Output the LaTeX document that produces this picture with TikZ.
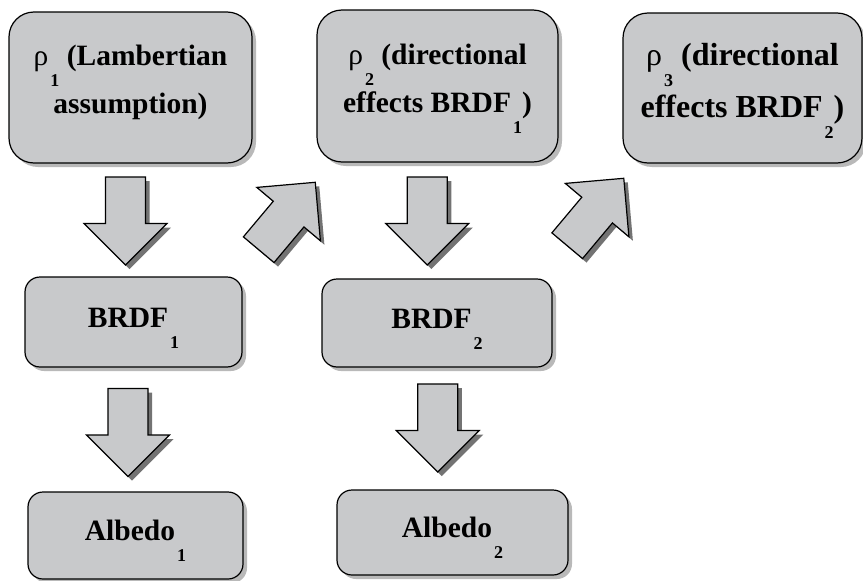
\documentclass[tikz,border=0pt]{standalone}
\usepackage{fontspec}
\setmainfont{Liberation Serif}
\usepackage{tikz}
\usetikzlibrary{calc}
\usetikzlibrary{shadows}
\usetikzlibrary{positioning}

\definecolor{boxgray}{RGB}{200,201,203}
\newcommand{\lowidx}[1]{\kern2pt\raisebox{-21pt}[0pt][0pt]{\fontsize{18}{18}\selectfont #1}}
\newcommand{\rhosym}{{\mdseries ρ}}

\begin{document}
\begin{tikzpicture}[x=1pt, y=-1pt,
  box/.style={draw, line width=1.2pt, fill=boxgray, rounded corners=15pt, inner sep=0pt,
    drop shadow={shadow xshift=4pt, shadow yshift=-4pt, fill=black!55},
    font=\fontsize{29.5}{48}\selectfont\bfseries, text height=19pt, text depth=9pt},
  bigbox/.style={box, rounded corners=25pt, align=center, text height=, text depth=,
    execute at end node={\rule[-16pt]{0pt}{16pt}}},
  arrowbody/.style={draw, line width=1.2pt, fill=boxgray, line join=miter},
  blockarrow/.pic={
    \fill[black!55, xshift=4pt, yshift=-4pt, rotate=#1]
      (-44pt,-20pt) -- (2.5pt,-20pt) -- (2.5pt,-41.5pt) -- (44pt,0pt) -- (2.5pt,41.5pt) -- (2.5pt,20pt) -- (-44pt,20pt) -- cycle;
    \path[arrowbody, rotate=#1]
      (-44pt,-20pt) -- (2.5pt,-20pt) -- (2.5pt,-41.5pt) -- (44pt,0pt) -- (2.5pt,41.5pt) -- (2.5pt,20pt) -- (-44pt,20pt) -- cycle;
  }
]
\useasboundingbox (0,0) rectangle (863,581);

% top row
\node[bigbox, minimum width=243pt, minimum height=151pt] (rho1) at (130.5,87.5) {\rhosym\lowidx{1} (Lambertian\\assumption)};
\node[bigbox, minimum width=241pt, minimum height=152pt] (rho2) at (437.5,86) {\rhosym\lowidx{2} (directional\\effects BRDF\lowidx{1})};
\node[bigbox, minimum width=239pt, minimum height=150pt, font=\fontsize{32}{52}\selectfont\bfseries] (rho3) at (742.5,88) {\rhosym\lowidx{3} (directional\\effects BRDF\lowidx{2})};

% middle row
\node[box, minimum width=217pt, minimum height=90pt] (brdf1) at (133.5,322) {BRDF\lowidx{1}};
\node[box, minimum width=230pt, minimum height=88pt] (brdf2) at (437,323) {BRDF\lowidx{2}};

% bottom row
\node[box, minimum width=215pt, minimum height=87pt] (albedo1) at (135.5,535.5) {Albedo\lowidx{1}};
\node[box, minimum width=231pt, minimum height=85pt] (albedo2) at (452.5,532.5) {Albedo\lowidx{2}};

% block arrows between the boxes
\pic at ($(rho1.south)!.5!(brdf1.north)+(-6.5,1)$) {blockarrow=270};
\pic at ($(rho2.south)!.5!(brdf2.north)+(-10,0.5)$) {blockarrow=270};
\pic at ($(brdf1.south)!.5!(albedo1.north)+(-6.5,3)$) {blockarrow=270};
\pic at ($(brdf2.south)!.5!(albedo2.north)+(-7,-0.5)$) {blockarrow=270};
\pic at ($(brdf1.north east)!.5!(rho2.south west)+(7.5,-3.5)$) {blockarrow=50};
\pic at ($(brdf2.north east)!.5!(rho3.south west)+(8,-9)$) {blockarrow=50};

\end{tikzpicture}
\end{document}
